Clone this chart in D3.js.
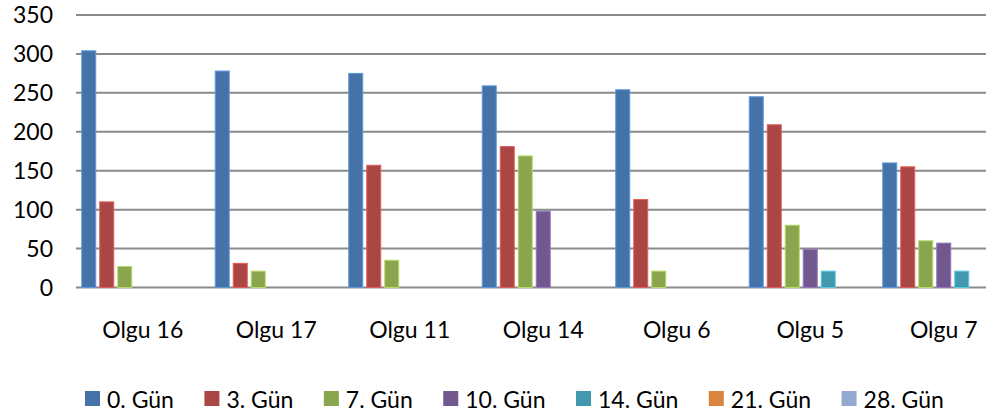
<!DOCTYPE html>
<html>
<head>
<meta charset="utf-8">
<script src="https://cdn.jsdelivr.net/npm/d3@7"></script>
<style>
  body { margin: 0; background: #fff; }
  svg { display: block; font-family: Lato, "Open Sans", sans-serif; }
</style>
</head>
<body>
<div id="chart"></div>
<script>
// categories (patients) and series (days)
let categories = ['Olgu 16', 'Olgu 17', 'Olgu 11', 'Olgu 14', 'Olgu 6', 'Olgu 5', 'Olgu 7'];
let seriesNames = ['0. Gün', '3. Gün', '7. Gün', '10. Gün', '14. Gün', '21. Gün', '28. Gün'];
let colors = ['#4572A7', '#AA4643', '#89A54E', '#71588F', '#4198AF', '#DB843D', '#93A9CF'];

// values per series, one entry per category
let gun0 = [304, 278, 275, 259, 254, 245, 160];
let gun3 = [110, 31, 157, 181, 113, 209, 155];
let gun7 = [27, 21, 35, 169, 21, 80, 60];
let gun10 = [0, 0, 0, 98, 0, 49, 57];
let gun14 = [0, 0, 0, 0, 0, 21, 21];
let gun21 = [0, 0, 0, 0, 0, 0, 0];
let gun28 = [0, 0, 0, 0, 0, 0, 0];
let yTicks = [0, 50, 100, 150, 200, 250, 300, 350];

let series = [gun0, gun3, gun7, gun10, gun14, gun21, gun28];

let dim = { width: 986, height: 418 };

let svg = d3.select('#chart')
    .append('svg')
    .attr('width', dim.width)
    .attr('height', dim.height);

// the plot runs past the right edge, like the cropped original
let x0 = d3.scaleBand()
    .domain(categories)
    .range([76, 76 + 7 * 133.5]);

let x1 = d3.scaleBand()
    .domain(seriesNames)
    .range([0, x0.bandwidth()])
    .paddingOuter(0.208);

let y = d3.scaleLinear()
    .domain([0, 350])
    .range([287.5, 15]);

// gridlines
svg.append('g')
    .selectAll('line')
    .data(yTicks)
    .join('line')
    .attr('x1', 76)
    .attr('x2', dim.width)
    .attr('y1', d => y(d))
    .attr('y2', d => y(d))
    .attr('stroke', '#8a8a8a')
    .attr('stroke-width', 2);

// y labels
svg.append('g')
    .selectAll('text')
    .data(yTicks)
    .join('text')
    .attr('x', 53)
    .attr('y', d => y(d) + 8)
    .attr('text-anchor', 'end')
    .attr('font-size', 23)
    .attr('fill', '#000')
    .text(d => d);

// bars
let groups = svg.append('g')
    .selectAll('g')
    .data(seriesNames)
    .join('g')
    .attr('fill', (d, i) => colors[i])
    .attr('stroke', (d, i) => d3.color(colors[i]).brighter(0.8))
    .attr('stroke-width', 1);

groups.selectAll('rect')
    .data((d, i) => series[i].map((v, j) => ({ name: d, cat: categories[j], value: v })))
    .join('rect')
    .filter(d => d.value > 0)
    .attr('x', d => x0(d.cat) + x1(d.name) + 2)
    .attr('width', x1.bandwidth() - 4)
    .attr('y', d => y(d.value))
    .attr('height', d => y(0) - y(d.value));

// category labels
svg.append('g')
    .selectAll('text')
    .data(categories)
    .join('text')
    .attr('x', d => x0(d) + x0.bandwidth() / 2)
    .attr('y', 338)
    .attr('text-anchor', 'middle')
    .attr('font-size', 23)
    .text(d => d);

// legend, laid out by text width
let legend = svg.append('g');
let lx = 85;
seriesNames.forEach((name, i) => {
    legend.append('rect')
        .attr('x', lx)
        .attr('y', 391)
        .attr('width', 15)
        .attr('height', 15)
        .attr('fill', colors[i]);
    let t = legend.append('text')
        .attr('x', lx + 22)
        .attr('y', 407.5)
        .attr('font-size', 23)
        .text(name);
    lx += 22 + t.node().getComputedTextLength() + 30.5;
});
</script>
</body>
</html>
